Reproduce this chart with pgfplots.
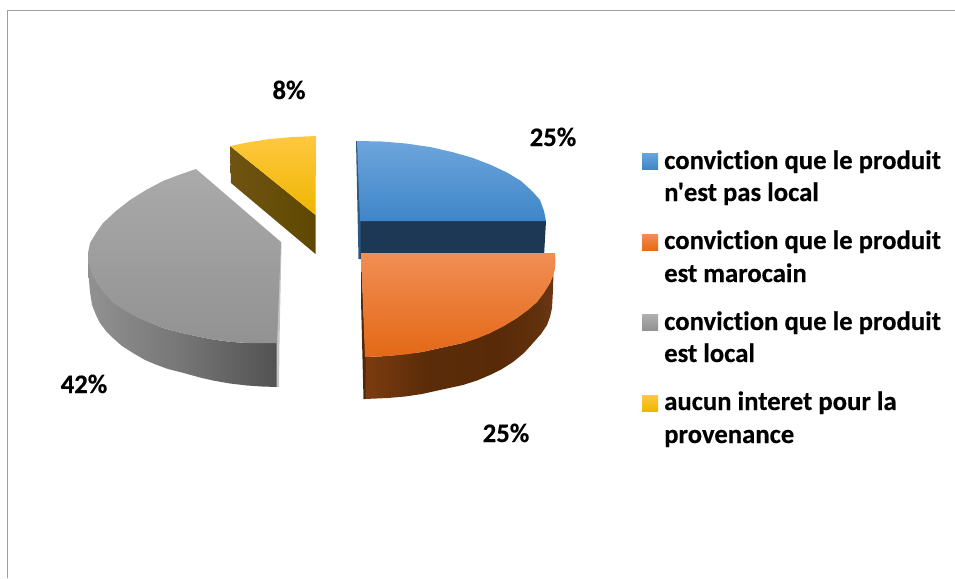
\documentclass[border=0pt]{standalone}
\usepackage{pgfplots}
\pgfplotsset{compat=1.18}
\usepackage{fontspec}
\setmainfont{Carlito}
\newfontfamily\lf{Carlito}[RawFeature={-liga}, BoldFeatures={FakeBold=0.3}]
\newcommand{\lab}[2]{\node[anchor=base west,inner sep=0pt,font=\fontsize{26.7}{27}\selectfont\lf\bfseries,text=black] at (axis cs:664,#1) {#2};}
\newcommand{\dat}[2]{\node[anchor=base,inner sep=0pt,font=\fontsize{26.7}{27}\selectfont\lf\bfseries,text=black] at (axis cs:#1) {#2};}
\pgfdeclarehorizontalshading{orangeside}{100bp}{rgb(0bp)=(0.49,0.235,0.06); rgb(25bp)=(0.49,0.235,0.06); rgb(40bp)=(0.36,0.175,0.035); rgb(60bp)=(0.345,0.165,0.03); rgb(70bp)=(0.38,0.19,0.05); rgb(75bp)=(0.42,0.22,0.08); rgb(100bp)=(0.42,0.22,0.08)}
\pgfdeclarehorizontalshading{greyside}{100bp}{rgb(0bp)=(0.57,0.57,0.57); rgb(25bp)=(0.57,0.57,0.57); rgb(50bp)=(0.46,0.46,0.46); rgb(75bp)=(0.32,0.32,0.32); rgb(100bp)=(0.32,0.32,0.32)}
\begin{document}
\begin{tikzpicture}
\begin{axis}[
  scale only axis, width=955pt, height=578pt,
  xmin=0, xmax=955, ymin=0, ymax=578, y dir=reverse,
  hide axis, clip=true,
  every axis plot/.append style={mark=none, draw=none},
]
\path (axis cs:0,0) rectangle (axis cs:955,578);
% frame
\addplot[draw={rgb,255:red,160;green,160;blue,160}, line width=1.8pt] coordinates {(7.5,578) (7.5,10.5) (955,10.5)};
% blue slice
\addplot[fill={rgb,255:red,28;green,56;blue,84}] coordinates {(360,221)(546,221)(544,256)(360,259)} -- cycle;
\addplot[fill={rgb,255:red,44;green,88;blue,130}] coordinates {(356,141)(358,141)(360.5,221)(360.5,259)(358.5,259)} -- cycle;
\addplot[top color={rgb,255:red,110;green,165;blue,220}, bottom color={rgb,255:red,62;green,134;blue,200}] coordinates {(357,141)(382,141.5)(406,143.5)(430,147)(452,152)(473,158)(491,165)(507,172.5)(521,181)(532,191)(540,200)(544,211)(546,221)(360,221)} -- cycle;
% yellow slice
\addplot[left color={rgb,255:red,112;green,84;blue,18}, right color={rgb,255:red,94;green,72;blue,0}] coordinates {(230,146)(315.5,215)(315.5,254)(231,183)} -- cycle;
\addplot[top color={rgb,255:red,255;green,200;blue,64}, bottom color={rgb,255:red,238;green,182;blue,0}] coordinates {(230,146)(250,142)(270,139)(293,137)(316,136)(315.5,215)} -- cycle;
% grey slice
\addplot[shading=greyside] coordinates {(88,253)(88.5,275)(90,292)(92,305)(96,315)(100,323)(106,331)(113,338)(122,346)(133,353)(145,360)(157,365)(168,369)(180,372)(200,377.5)(213,380.5)(230,383.5)(247,385.5)(262,386.5)(277,387)(277,343)(247,343)(230,341.8)(213,339.5)(200,337)(180,332.5)(163,328)(137,317)(113,302)(97,283)} -- cycle;
\addplot[fill={rgb,255:red,196;green,196;blue,196}] coordinates {(280,242)(281.5,242)(279.5,343)(279,387)(276.5,387)(276.5,343)} -- cycle;
\addplot[top color={rgb,255:red,170;green,170;blue,170}, bottom color={rgb,255:red,146;green,146;blue,146}] coordinates {(196,169)(180,174.5)(163,181)(146,190)(130,200)(116,211)(103,223)(96,233)(90,243)(88,253)(88.5,263)(92,274)(97,283)(104,293)(113,302)(124,310)(137,317)(150,323)(163,328)(180,332.5)(200,337)(213,339.5)(230,341.8)(247,343)(277,343)(281,242)} -- cycle;
% orange slice
\addplot[shading=orangeside] coordinates {(555,268)(553.5,272)(553,290)(552,308)(550,317)(547,325)(541,334)(533,343)(524,353)(513,362)(502,369)(490,375)(477,380.5)(463,385)(440,390)(422,394)(405,396.5)(388,398)(365,399)(365,357)(388,356)(422,352)(463,343)(490,333)(517,318)(537,302)(550,283)} -- cycle;
\addplot[fill={rgb,255:red,80;green,40;blue,10}] coordinates {(361,253)(365.5,357)(365.5,399)(363.5,399)(361,300)} -- cycle;
\addplot[top color={rgb,255:red,240;green,142;blue,84}, bottom color={rgb,255:red,228;green,104;blue,22}] coordinates {(361,253)(555,253)(555.5,261)(555,268)(553,276)(550,283)(544,293)(537,302)(528,310)(517,318)(504,326)(490,333)(477,338.5)(463,343)(440,348)(422,352)(405,354.5)(388,356)(365,357)} -- cycle;
% legend swatches
\addplot[top color={rgb,255:red,106;green,165;blue,222}, bottom color={rgb,255:red,62;green,134;blue,200}] coordinates {(642,153)(658,153)(658,169)(642,169)} -- cycle;
\addplot[top color={rgb,255:red,240;green,142;blue,84}, bottom color={rgb,255:red,230;green,106;blue,24}] coordinates {(642,234)(658,234)(658,250)(642,250)} -- cycle;
\addplot[top color={rgb,255:red,176;green,176;blue,176}, bottom color={rgb,255:red,146;green,146;blue,146}] coordinates {(642,314)(658,314)(658,330)(642,330)} -- cycle;
\addplot[top color={rgb,255:red,255;green,200;blue,64}, bottom color={rgb,255:red,238;green,182;blue,0}] coordinates {(642,395)(658,395)(658,411)(642,411)} -- cycle;
\lab{169}{conviction que le produit}
\lab{201}{n'est pas local}
\lab{249}{conviction que le produit}
\lab{282}{est marocain}
\lab{330}{conviction que le produit}
\lab{362}{est local}
\lab{410}{aucun interet pour la}
\lab{443}{provenance}
\dat{289,99}{8\%}
\dat{553,146}{25\%}
\dat{84,393}{42\%}
\dat{506,442}{25\%}
\end{axis}
\end{tikzpicture}
\end{document}
